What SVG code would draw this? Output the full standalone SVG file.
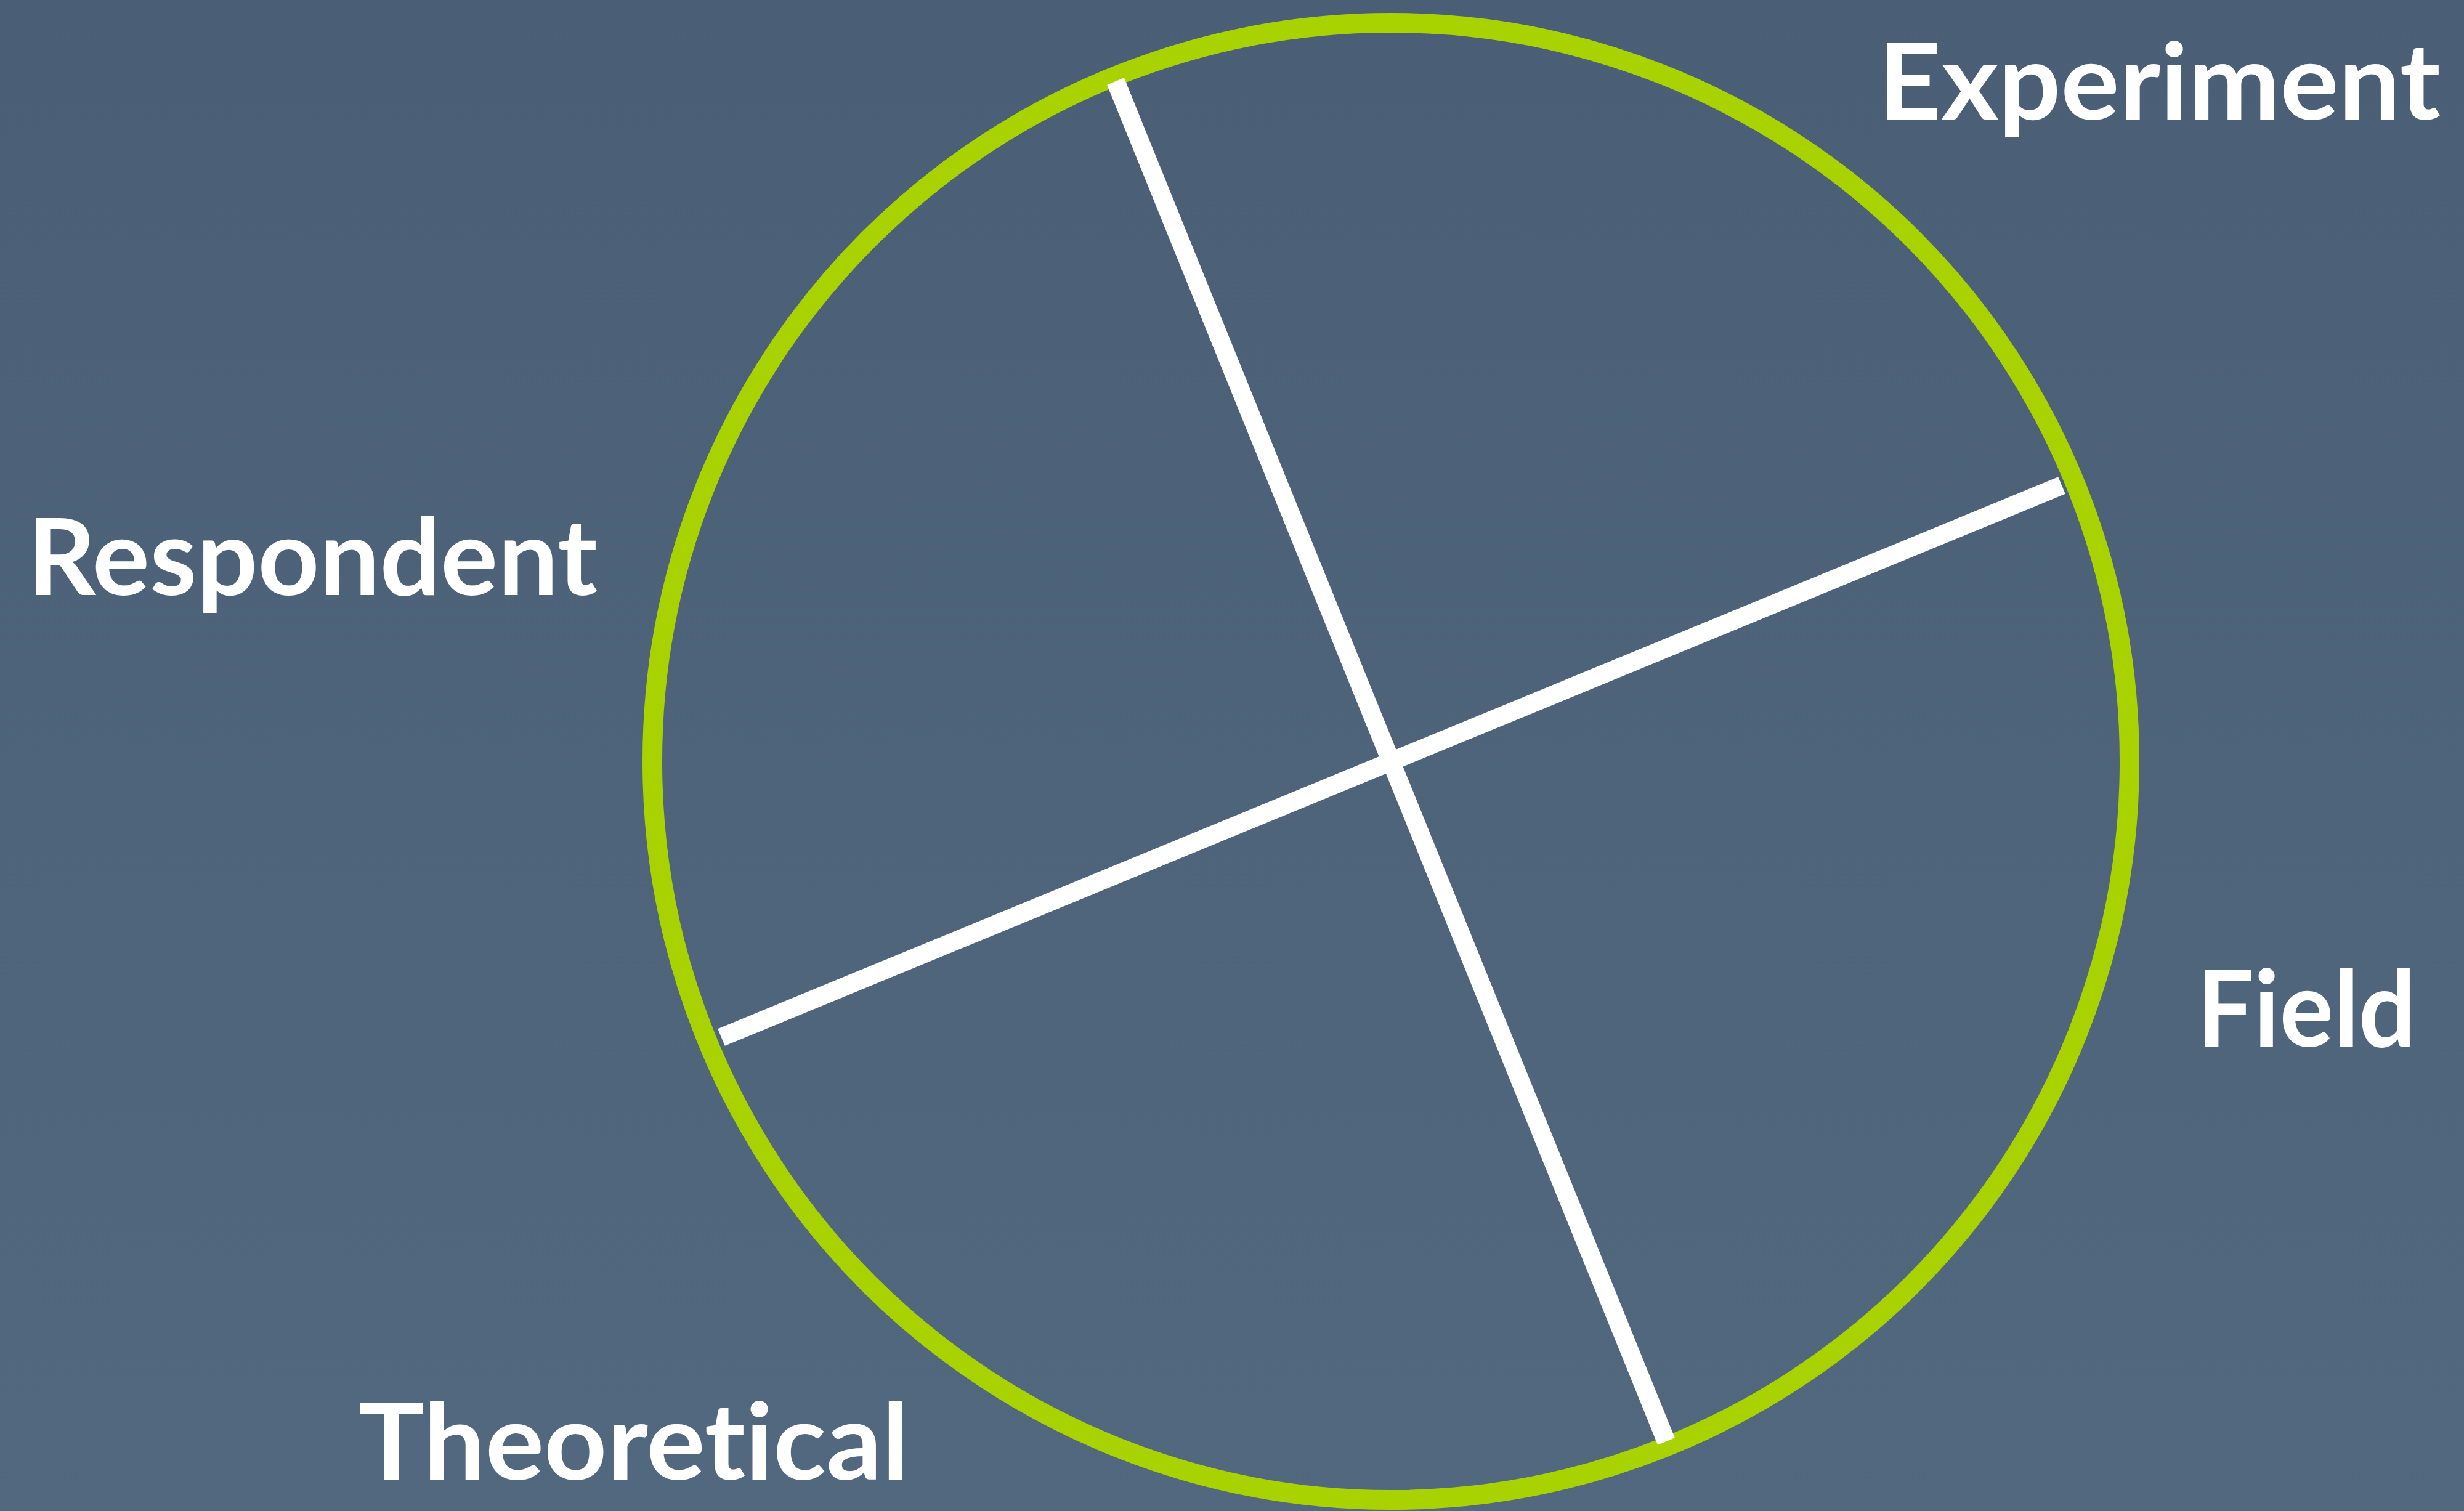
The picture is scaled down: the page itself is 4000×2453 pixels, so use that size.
<svg xmlns="http://www.w3.org/2000/svg" width="4000" height="2453" viewBox="0 0 4000 2453">
  <defs>
    <linearGradient id="bg" x1="0" y1="0" x2="0" y2="1">
      <stop offset="0" stop-color="#4a5f76"/>
      <stop offset="1" stop-color="#52687f"/>
    </linearGradient>
  </defs>
  <style>
    .lbl { font-family: Lato, "Liberation Sans", sans-serif; font-weight: 700; font-size: 172px; fill: #ffffff; font-variant-ligatures: none; font-feature-settings: "liga" 0, "clig" 0; }
    .axis { stroke: #ffffff; stroke-width: 30; stroke-linecap: butt; fill: none; }
    .ring { stroke: #a8d200; stroke-width: 32; fill: none; }
  </style>
  <rect x="0" y="0" width="4000" height="2453" fill="url(#bg)"/>
  <g id="circle">
    <circle class="ring" cx="2258" cy="1236" r="1199"/>
  </g>
  <g id="connectors">
    <line class="axis" x1="1811" y1="132" x2="2705" y2="2340"/>
    <line class="axis" x1="1171" y1="1684" x2="3347" y2="788"/>
  </g>
  <g id="label-experiment">
    <text class="lbl" x="3049" y="194" textLength="913" lengthAdjust="spacingAndGlyphs">Experiment</text>
  </g>
  <g id="label-respondent">
    <text class="lbl" x="44" y="966" textLength="926" lengthAdjust="spacingAndGlyphs">Respondent</text>
  </g>
  <g id="label-field">
    <text class="lbl" x="3566" y="1699" textLength="356" lengthAdjust="spacingAndGlyphs">Field</text>
  </g>
  <g id="label-theoretical">
    <text class="lbl" x="582" y="2402" textLength="894" lengthAdjust="spacingAndGlyphs">Theoretical</text>
  </g>
</svg>
